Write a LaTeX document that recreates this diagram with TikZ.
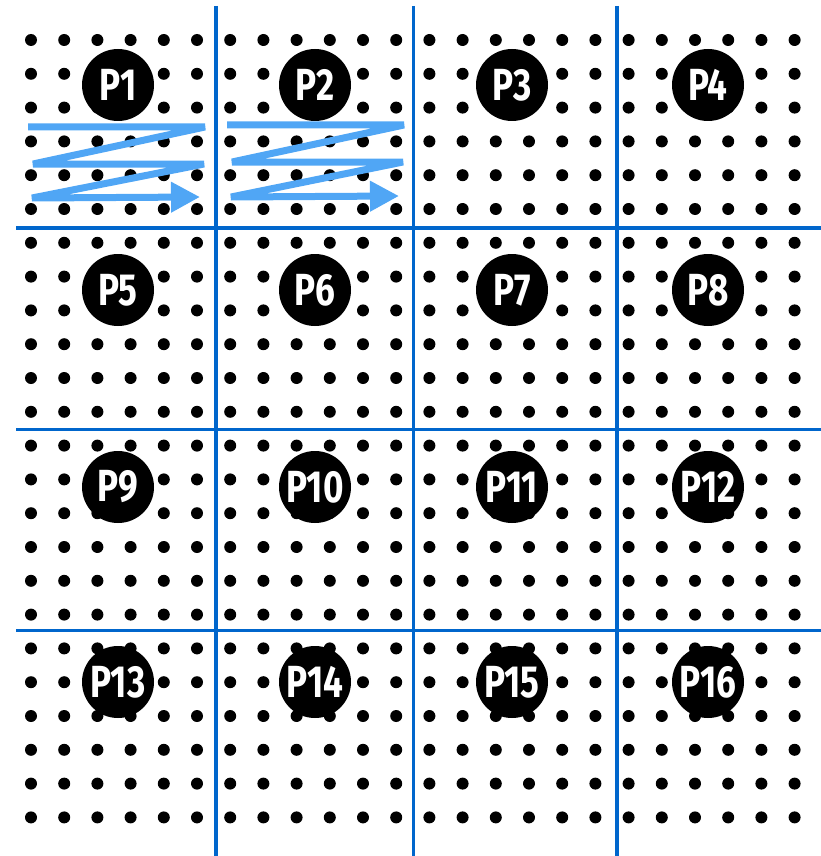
\documentclass[tikz,border=0pt]{standalone}
\usepackage{fontspec}
\usepackage{graphicx}
\setmainfont{Fira Sans}
\usetikzlibrary{arrows.meta}

\definecolor{gridblue}{RGB}{0,102,204}
\definecolor{scanblue}{RGB}{80,166,245}

\tikzset{
    proc/.style={circle, fill=black, text=white, minimum size=72pt, inner sep=0pt,
        font=\fontsize{45}{45}\selectfont\bfseries},
    scan/.style={scanblue, line width=7pt, line join=bevel,
        -{Triangle[length=29pt, width=29pt]}}
}
\newcommand{\plabel}[1]{\scalebox{0.78}[1]{#1}}

\begin{document}
\begin{tikzpicture}[x=1pt, y=-1pt]
    \useasboundingbox (0,0) rectangle (821,856);

    % 24 x 24 sample points
    \foreach \i in {0,...,23}
        \foreach \j in {0,...,23}
            \fill (31+33.2*\i, 40+33.8*\j) circle (6);

    % block boundaries
    \foreach \x in {216, 413.5, 617}
        \draw[gridblue, line width=3.5pt] (\x, 6) -- (\x, 856);
    \foreach \y in {228, 429.5, 630.7}
        \draw[gridblue, line width=3.5pt] (16, \y) -- (821, \y);

    % one processor per block
    \foreach \r [count=\row from 0] in {85, 290, 487, 682}
        \foreach \c [count=\col from 1] in {118, 315, 512, 708} {
            \pgfmathtruncatemacro{\n}{4*\row+\col}
            \node[proc] (p\n) at (\c, \r) {\plabel{P\n}};
        }

    % scan order inside P1 and P2
    \coordinate (a0) at (28, 127);
    \coordinate (a1) at (205, 127);
    \coordinate (a2) at (33, 164);
    \coordinate (a3) at (204, 164);
    \coordinate (a4) at (32, 198);
    \coordinate (a5) at (200, 197);
    \draw[scan] (a0) -- (a1) -- (a2) -- (a3) -- (a4) -- (a5);

    \coordinate (b0) at (227, 125);
    \coordinate (b1) at (404, 125);
    \coordinate (b2) at (232, 162);
    \coordinate (b3) at (403, 162);
    \coordinate (b4) at (231, 197);
    \coordinate (b5) at (399, 196);
    \draw[scan] (b0) -- (b1) -- (b2) -- (b3) -- (b4) -- (b5);

\end{tikzpicture}
\end{document}
